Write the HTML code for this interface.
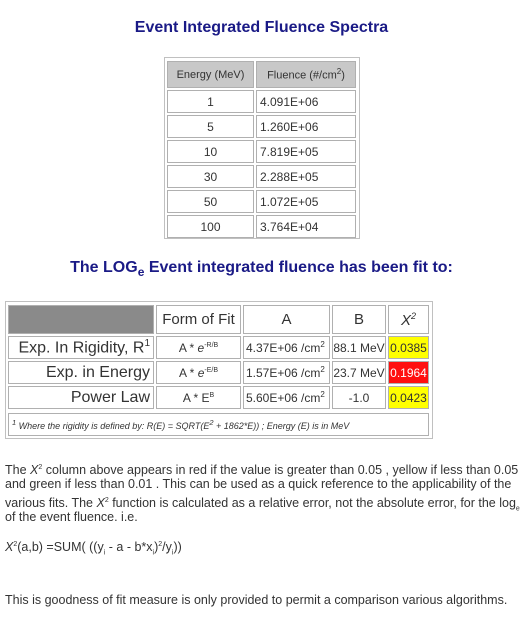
<!DOCTYPE html>
<html><head><meta charset="utf-8"><style>
body{margin:0;width:523px;height:617px;background:#fff;position:relative;overflow:hidden;font-family:"Liberation Sans",sans-serif;}
.a{position:absolute;}
.t{color:#1a1a86;font-weight:bold;font-size:16px;white-space:nowrap;}
.c{position:absolute;border:1px solid #b0b0b0;box-sizing:border-box;font-size:12px;color:#333;display:flex;align-items:center;white-space:nowrap;}
.p{position:absolute;left:5px;font-size:12.5px;color:#333;white-space:nowrap;line-height:14px;}
</style></head><body>
<div class="a t" style="left:0;width:523px;text-align:center;top:19px;">Event Integrated Fluence Spectra</div>

<div class="a" style="left:164px;top:57px;width:196px;height:182px;border:1px solid #c0c0c0;box-sizing:border-box;"></div>
<div class="c" style="left:167px;top:61px;width:87px;height:27px;background:#c8c8c8;justify-content:center;font-size:11px;">Energy (MeV)</div>
<div class="c" style="left:256px;top:61px;width:100px;height:27px;background:#c8c8c8;justify-content:center;font-size:11px;"><span>Fluence (#/cm<sup style="font-size:8px">2</sup>)</span></div>
<div id="t1"></div>

<div class="a t" style="left:0;width:523px;text-align:center;top:259px;">The LOG<sub style="font-size:12px">e</sub> Event integrated fluence has been fit to:</div>

<div class="a" style="left:5px;top:301px;width:428px;height:138px;border:1px solid #c0c0c0;box-sizing:border-box;"></div>
<div class="c" style="left:8px;top:305px;width:146px;height:29px;background:#8a8a8a;"></div>
<div class="c" style="left:156px;top:305px;width:85px;height:29px;justify-content:center;font-size:15px;">Form of Fit</div>
<div class="c" style="left:243px;top:305px;width:87px;height:29px;justify-content:center;font-size:15px;">A</div>
<div class="c" style="left:332px;top:305px;width:54px;height:29px;justify-content:center;font-size:15px;">B</div>
<div class="c" style="left:388px;top:305px;width:41px;height:29px;justify-content:center;font-size:15px;font-style:italic;"><span>X<sup style="font-size:9px">2</sup></span></div>
<div id="t2"></div>
<div class="c" style="left:8px;top:413px;width:421px;height:23px;font-size:9px;font-style:italic;padding-left:3px;"><span><sup>1</sup>&nbsp;Where the rigidity is defined by: R(E) = SQRT(E<sup>2</sup> + 1862*E)) ; Energy (E) is in MeV</span></div>

<div class="p" style="top:461px;">The <i>X</i><sup style="font-size:7px">2</sup> column above appears in red if the value is greater than 0.05 , yellow if less than 0.05</div>
<div class="p" style="top:477px;">and green if less than 0.01 . This can be used as a quick reference to the applicability of the</div>
<div class="p" style="top:494px;">various fits. The <i>X</i><sup style="font-size:7px">2</sup> function is calculated as a relative error, not the absolute error, for the log<sub style="font-size:7px">e</sub></div>
<div class="p" style="top:510px;">of the event fluence. i.e.</div>
<div class="p" style="top:538px;"><i>X</i><sup style="font-size:7px">2</sup>(a,b) =SUM( ((y<sub style="font-size:7px">i</sub> - a - b*x<sub style="font-size:7px">i</sub>)<sup style="font-size:7px">2</sup>/y<sub style="font-size:7px">i</sub>))</div>
<div class="p" style="top:593px;">This is goodness of fit measure is only provided to permit a comparison various algorithms.</div>

<script>
const energies=["1","5","10","30","50","100"];
const fluences=["4.091E+06","1.260E+06","7.819E+05","2.288E+05","1.072E+05","3.764E+04"];
const fitNames=["Exp. In Rigidity, R<sup style='font-size:10px'>1</sup>","Exp. in Energy","Power Law"];
const fitForms=["A * <i>e</i><sup style='font-size:7px'>-R/B</sup>","A * <i>e</i><sup style='font-size:7px'>-E/B</sup>","A * E<sup style='font-size:7px'>B</sup>"];
const fitA=["4.37E+06 /cm<sup style='font-size:8px'>2</sup>","1.57E+06 /cm<sup style='font-size:8px'>2</sup>","5.60E+06 /cm<sup style='font-size:8px'>2</sup>"];
const fitB=["88.1 MeV","23.7 MeV","-1.0"];
const chi=[0.0385,0.1964,0.0423];
const t1=document.getElementById('t1');
energies.forEach((e,i)=>{
  const y=90+i*25;
  const a=document.createElement('div');a.className='c';
  
  
  a.style.cssText=`left:167px;top:${y}px;width:87px;height:23px;justify-content:center;`;a.textContent=e;t1.appendChild(a);
  const b=document.createElement('div');b.className='c';
  
  
  b.style.cssText=`left:256px;top:${y}px;width:100px;height:23px;padding-left:3px;`;b.textContent=fluences[i];t1.appendChild(b);
});
const t2=document.getElementById('t2');
const rowY=[336,361,386];
fitNames.forEach((n,i)=>{
  const y=rowY[i];
  const cells=[
    [8,146,n,'flex-end','font-size:16px;padding-right:3px;'],
    [156,85,fitForms[i],'center',''],
    [243,87,fitA[i],'flex-start','padding-left:2px;'],
    [332,54,fitB[i],'center',''],
  ];
  cells.forEach(c=>{
    const d=document.createElement('div');d.className='c';
    
    
    d.style.cssText=`left:${c[0]}px;top:${y}px;width:${c[1]}px;height:23px;justify-content:${c[3]};${c[4]}`;
    d.innerHTML='<span>'+c[2]+'</span>';t2.appendChild(d);
  });
  const v=chi[i];
  const col=v>0.05?'#ff1010':(v<0.01?'#20c020':'#ffff00');
  const d=document.createElement('div');d.className='c';
  
  
  d.style.cssText=`left:388px;top:${y}px;width:41px;height:23px;background:${col};justify-content:center;color:${v>0.05?'#fff':'#333'}`;
  d.textContent=v.toFixed(4);t2.appendChild(d);
});
</script>
</body></html>
